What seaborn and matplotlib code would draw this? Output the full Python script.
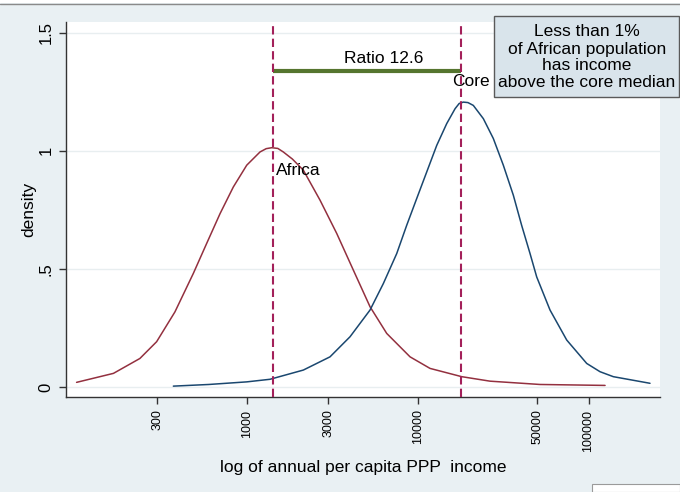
import matplotlib
matplotlib.use("Agg")
import matplotlib.pyplot as plt
from matplotlib.patches import Rectangle
from matplotlib.lines import Line2D
import pandas as pd
import seaborn as sns

# values
africa_income = [101, 166, 237, 297, 380, 487, 583, 698, 835, 1000, 1196, 1300,
                 1401, 1520, 1637, 1850, 2144, 2685, 3363, 4206, 5266, 6595,
                 9028, 11820, 18120, 26530, 52010, 125000]
africa_density = [0.020, 0.058, 0.121, 0.192, 0.318, 0.481, 0.608, 0.734, 0.847,
                  0.939, 0.995, 1.009, 1.013, 1.010, 0.995, 0.965, 0.918, 0.791,
                  0.650, 0.495, 0.340, 0.227, 0.128, 0.079, 0.044, 0.025, 0.011,
                  0.007]

core_income = [372, 600, 1000, 1369, 2144, 3072, 4023, 5266, 6300, 7546, 8635,
               9879, 11300, 12940, 14800, 16560, 17500, 18510, 19700, 21180,
               24240, 27730, 31730, 36310, 40600, 45480, 49760, 59530, 74560,
               97600, 116800, 139700, 229000]
core_density = [0.004, 0.011, 0.022, 0.033, 0.072, 0.128, 0.213, 0.326, 0.438,
                0.565, 0.685, 0.798, 0.910, 1.023, 1.115, 1.178, 1.200, 1.206,
                1.204, 1.192, 1.136, 1.052, 0.939, 0.812, 0.685, 0.565, 0.466,
                0.326, 0.199, 0.100, 0.065, 0.044, 0.016]

africa_median = 1420
core_median = 17900
ratio_label = "Ratio 12.6"
ratio_y = 1.337

x_ticks = [300, 1000, 3000, 10000, 50000, 100000]
x_tick_labels = ["300", "1000", "3000", "10000", "50000", "100000"]
y_ticks = [0, 0.5, 1, 1.5]
y_tick_labels = ["0", ".5", "1", "1.5"]

note_lines = ["Less than 1%", "of African population", "has income",
              "above the core median"]

# colours (Stata s2color look)
bg = "#e9f0f3"
c_africa = "#93303f"
c_core = "#1a476f"
c_green = "#55752f"
c_dash = "#a3205a"

sns.set_style("white")
plt.rcParams["font.family"] = ["Liberation Sans", "DejaVu Sans"]
plt.rcParams.update({"text.color": "black", "axes.labelcolor": "black",
                     "xtick.color": "black", "ytick.color": "black"})

W, H = 680, 492
fig = plt.figure(figsize=(W / 100, H / 100), dpi=100, facecolor=bg)
ax = fig.add_axes([65.5 / W, 1 - 397 / H, (660 - 65.5) / W, (397 - 22) / H])
ax.set_facecolor("white")

df = pd.concat([
    pd.DataFrame({"income": africa_income, "density": africa_density, "group": "Africa"}),
    pd.DataFrame({"income": core_income, "density": core_density, "group": "Core"}),
])

sns.lineplot(data=df, x="income", y="density", hue="group",
             palette={"Africa": c_africa, "Core": c_core},
             estimator=None, sort=False, linewidth=1.1, legend=False, ax=ax)

ax.set_xscale("log")
ax.set_xlim(87, 262000)
ax.set_ylim(-0.042, 1.545)

# medians
for m in (africa_median, core_median):
    ax.axvline(m, color=c_dash, linewidth=1.5, dashes=(4, 2), zorder=3)

# ratio bar
sns.lineplot(x=[africa_median, core_median], y=[ratio_y, ratio_y], color=c_green,
             linewidth=3, ax=ax, solid_capstyle="butt")

ax.text(6300, 1.392, ratio_label, ha="center", va="center", fontsize=12.5)
ax.text(1484, 0.915, "Africa", ha="left", va="center", fontsize=12.5)
ax.text(15830, 1.294, "Core", ha="left", va="center", fontsize=12.5)

# axes styling
ax.set_yticks(y_ticks)
ax.set_yticklabels(y_tick_labels)
ax.set_xticks(x_ticks)
ax.set_xticklabels(x_tick_labels)
ax.minorticks_off()
ax.tick_params(axis="y", length=5, width=1, color="#333333", pad=3.5,
               labelsize=12, direction="out", left=True)
ax.tick_params(axis="x", length=5, width=1, color="#333333", pad=4,
               labelsize=9, direction="out", bottom=True)
plt.setp(ax.get_yticklabels(), rotation=90, va="center")
plt.setp(ax.get_xticklabels(), rotation=90, ha="center", va="top")

ax.grid(axis="y", color="#e8eef0", linewidth=1)
ax.grid(axis="x", visible=False)
ax.set_axisbelow(True)

for side in ("top", "right"):
    ax.spines[side].set_visible(False)
for side in ("left", "bottom"):
    ax.spines[side].set_color("#333333")
    ax.spines[side].set_linewidth(1)

ax.set_xlabel("log of annual per capita PPP  income", fontsize=12.5, labelpad=6)
ax.set_ylabel("density", fontsize=12.5, labelpad=2)

# note box, partly outside the plot region
fig.add_artist(Rectangle((494 / W, 1 - 96.7 / H), (679 - 494) / W, (96.7 - 16) / H,
                         transform=fig.transFigure, facecolor="#d9e4eb",
                         edgecolor="#5a5a5a", linewidth=1))
for line, ypx in zip(note_lines, [31.7, 49.3, 66, 82.7]):
    fig.text(587 / W, 1 - ypx / H, line, ha="center", va="center", fontsize=12.5)

# screenshot edges
fig.add_artist(Rectangle((0, 1 - 3 / H), 1, 3 / H, transform=fig.transFigure,
                         facecolor="white", edgecolor="none"))
fig.add_artist(Line2D([0, 1], [1 - 3.5 / H, 1 - 3.5 / H], transform=fig.transFigure,
                      color="#8a8a8a", linewidth=1))
fig.add_artist(Rectangle((592 / W, 0), 88 / W, 8 / H, transform=fig.transFigure,
                         facecolor="white", edgecolor="#9a9a9a", linewidth=0.8))

fig.savefig("out.png", dpi=100, facecolor=fig.get_facecolor())
